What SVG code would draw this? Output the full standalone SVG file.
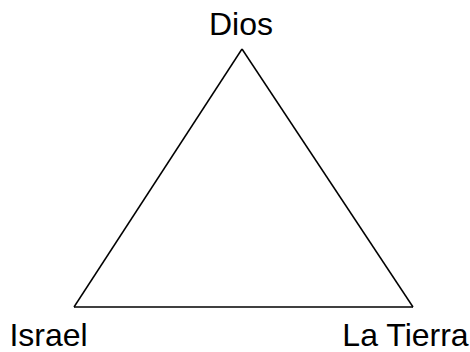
<svg xmlns="http://www.w3.org/2000/svg" width="470" height="352" viewBox="0 0 470 352">
<style>
.lbl{font-family:"Liberation Sans",Arial,sans-serif;font-size:32px;fill:#000}
.edge{stroke:#000;stroke-width:1.5;fill:none}
</style>
<rect width="470" height="352" fill="#fff"/>
<g id="connectors">
<line class="edge" x1="242" y1="49" x2="74" y2="307"/>
<line class="edge" x1="242" y1="49" x2="413" y2="307"/>
<line class="edge" x1="74" y1="307" x2="413" y2="307"/>
</g>
<g id="node-dios"><text class="lbl" x="241" y="35" text-anchor="middle">Dios</text></g>
<g id="node-israel"><text class="lbl" x="48.5" y="346" text-anchor="middle">Israel</text></g>
<g id="node-tierra"><text class="lbl" x="405.5" y="346" text-anchor="middle">La Tierra</text></g>
</svg>
